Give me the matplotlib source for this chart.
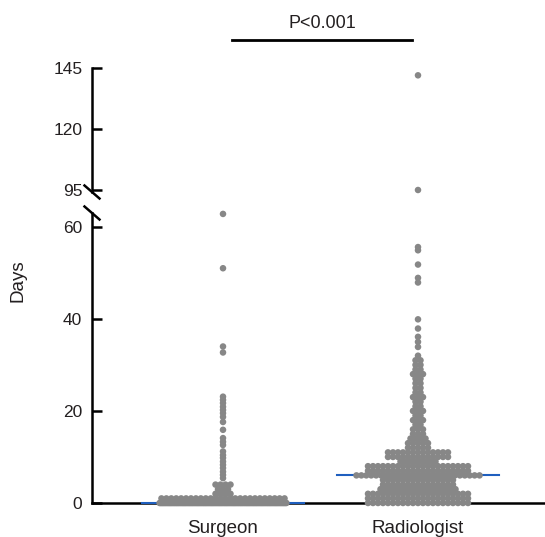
import numpy as np
import matplotlib
matplotlib.use("Agg")
import matplotlib.pyplot as plt

plt.rcParams['font.family'] = ['Liberation Sans', 'DejaVu Sans']

# --- данные ---
groups = ["Surgeon", "Radiologist"]
medians = [0, 6]
p_text = "P<0.001"

# значение (дни) и сколько точек в этом ряду
surgeon_days = [0, 1, 2, 3, 4, 5.4, 6.1, 6.8, 7.6, 8.3, 9.0, 9.8, 10.4, 11.2,
                12.6, 13.3, 14.1, 15.9, 17.6, 18.7, 19.5, 20.2, 20.9, 21.7,
                22.4, 23.1, 32.7, 34.0, 51.0, 62.8]
surgeon_counts = [110, 26, 4, 3, 4, 1, 1, 1, 1, 1, 1, 1, 1, 1,
                  1, 1, 1, 1, 1, 1, 1, 1, 1, 1,
                  1, 1, 1, 1, 1, 1]

radiologist_days = [0, 1, 2, 3, 4, 5, 6, 7, 8, 9, 10, 11, 12, 13, 14, 15, 16,
                    17, 18, 19, 20, 21, 22, 23, 24, 25, 26, 27, 28, 29, 30, 31,
                    32, 33.9, 35.0, 36.1, 37.9, 39.9, 47.9, 48.9, 51.8, 54.9,
                    55.6, 95, 142]
radiologist_counts = [21, 21, 21, 16, 15, 15, 26, 21, 21, 8, 13, 13, 5, 5, 4, 3, 3,
                      2, 3, 2, 3, 2, 2, 3, 2, 2, 2, 2, 3, 2, 2, 2,
                      1, 1, 1, 1, 1, 1, 1, 1, 1, 1,
                      1, 1, 1]

group_days = [surgeon_days, radiologist_days]
group_counts = [surgeon_counts, radiologist_counts]

# --- оформление ---
dot_color = "#878787"
median_color = "#1f5fbf"
text_color = "#231f20"
px_per_unit = 195.0      # пикселей на одну позицию группы по оси x
dot_px = 5.0
max_row_px = 128.0
lo_max, hi_min, hi_max = 63, 94.18, 145


def row_offsets(n):
    # точки одного значения раскладываются в ряд, слишком длинные ряды сжимаются
    step = min(dot_px, max_row_px / n)
    return (np.arange(n) - (n - 1) / 2) * step / px_per_unit


fig = plt.figure(figsize=(5.45, 5.37), dpi=100)
ax_lo = fig.add_axes([92 / 545, 34 / 537, 453 / 545, 290 / 537])
ax_hi = fig.add_axes([92 / 545, 345 / 537, 453 / 545, 124 / 537], sharex=ax_lo)

for i, (days, counts) in enumerate(zip(group_days, group_counts)):
    pos = i + 1
    xs, ys = [], []
    for d, n in zip(days, counts):
        xs.extend(pos + row_offsets(n))
        ys.extend([d] * n)
    xs, ys = np.array(xs), np.array(ys)
    lo = ys <= lo_max + 1
    for ax, mask in ((ax_lo, lo), (ax_hi, ~lo)):
        if mask.any():
            ax.scatter(xs[mask], ys[mask], s=22, color=dot_color,
                       edgecolors="none", zorder=4, clip_on=False)
    half = 81 / px_per_unit
    ax_lo.plot([pos - half, pos + half], [medians[i], medians[i]],
               color=median_color, lw=1.5, zorder=3, clip_on=False)

ax_lo.set_xlim(1 - 131 / px_per_unit, 1 - 131 / px_per_unit + 453 / px_per_unit)
ax_lo.set_ylim(0, lo_max)
ax_hi.set_ylim(hi_min, hi_max)

ax_lo.set_yticks([0, 20, 40, 60])
ax_hi.set_yticks([95, 120, 145])
ax_lo.set_xticks([1, 2])
ax_lo.set_xticklabels(groups)

for ax in (ax_lo, ax_hi):
    ax.spines["top"].set_visible(False)
    ax.spines["right"].set_visible(False)
    ax.spines["left"].set_linewidth(1.8)
    ax.spines["bottom"].set_linewidth(1.8)
    ax.tick_params(axis="y", direction="in", length=7, width=1.8, pad=7,
                   labelsize=12.5, labelcolor=text_color)
ax_hi.spines["bottom"].set_visible(False)
ax_hi.tick_params(axis="x", bottom=False, labelbottom=False)
ax_lo.tick_params(axis="x", length=0, pad=12, labelsize=13.5,
                  labelcolor=text_color)

# значки разрыва оси
dx = 7.5 / 453
for ax, h in ((ax_hi, 124), (ax_lo, 290)):
    dy = 6.5 / h
    y0 = 0 if ax is ax_hi else 1
    ax.plot([-dx, dx], [y0 + dy, y0 - dy], transform=ax.transAxes,
            color="black", lw=1.8, clip_on=False)

# линия значимости
bar_x = [1 + 9 / px_per_unit, 2 - 6 / px_per_unit]
ax_hi.plot(bar_x, [1.226, 1.226], transform=ax_hi.get_xaxis_transform(),
           color="black", lw=2, clip_on=False)
ax_hi.text(np.mean(bar_x), 1.32, p_text, transform=ax_hi.get_xaxis_transform(),
           ha="center", va="baseline", fontsize=13, color=text_color)

fig.text(18 / 545, 1 - 281 / 537, "Days", rotation=90, ha="center", va="center",
         fontsize=13.5, color=text_color)

fig.savefig("out.png", dpi=100)
